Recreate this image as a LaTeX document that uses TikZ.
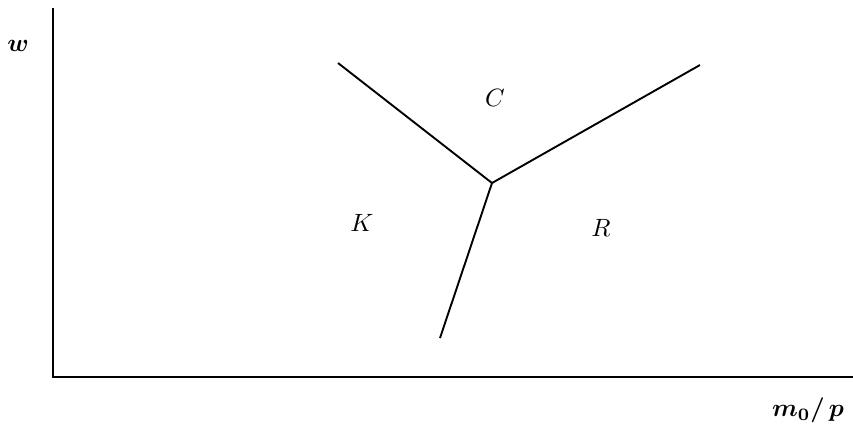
\documentclass[tikz,border=0pt]{standalone}
\usepackage{graphicx}
\usepackage{bm}
\begin{document}
\begin{tikzpicture}[x=1pt,y=-1pt,line width=1.9pt,
  lbl/.style={inner sep=0pt}]
\useasboundingbox (0,0) rectangle (853,432);
\coordinate (top) at (53,8);
\coordinate (origin) at (53,377);
\coordinate (right) at (853,377);
\draw (top) -- (origin) -- (right);
\coordinate (c) at (492,183);
\coordinate (a) at (338,63);
\coordinate (b) at (700,65);
\coordinate (d) at (440,338);
\draw (c) -- (a);
\draw (c) -- (b);
\draw (c) -- (d);
\node[lbl] (w) at (18,46) {\scalebox{2.5}{$\bm{w}$}};
\node[lbl] (mp) at (808,410) {\scalebox{2.5}{$\bm{m_0/\,p}$}};
\node[lbl] (C) at (495,98) {\scalebox{2.5}{$C$}};
\node[lbl] (K) at (362,223) {\scalebox{2.5}{$K$}};
\node[lbl] (R) at (601,228) {\scalebox{2.5}{$R$}};
\end{tikzpicture}
\end{document}
